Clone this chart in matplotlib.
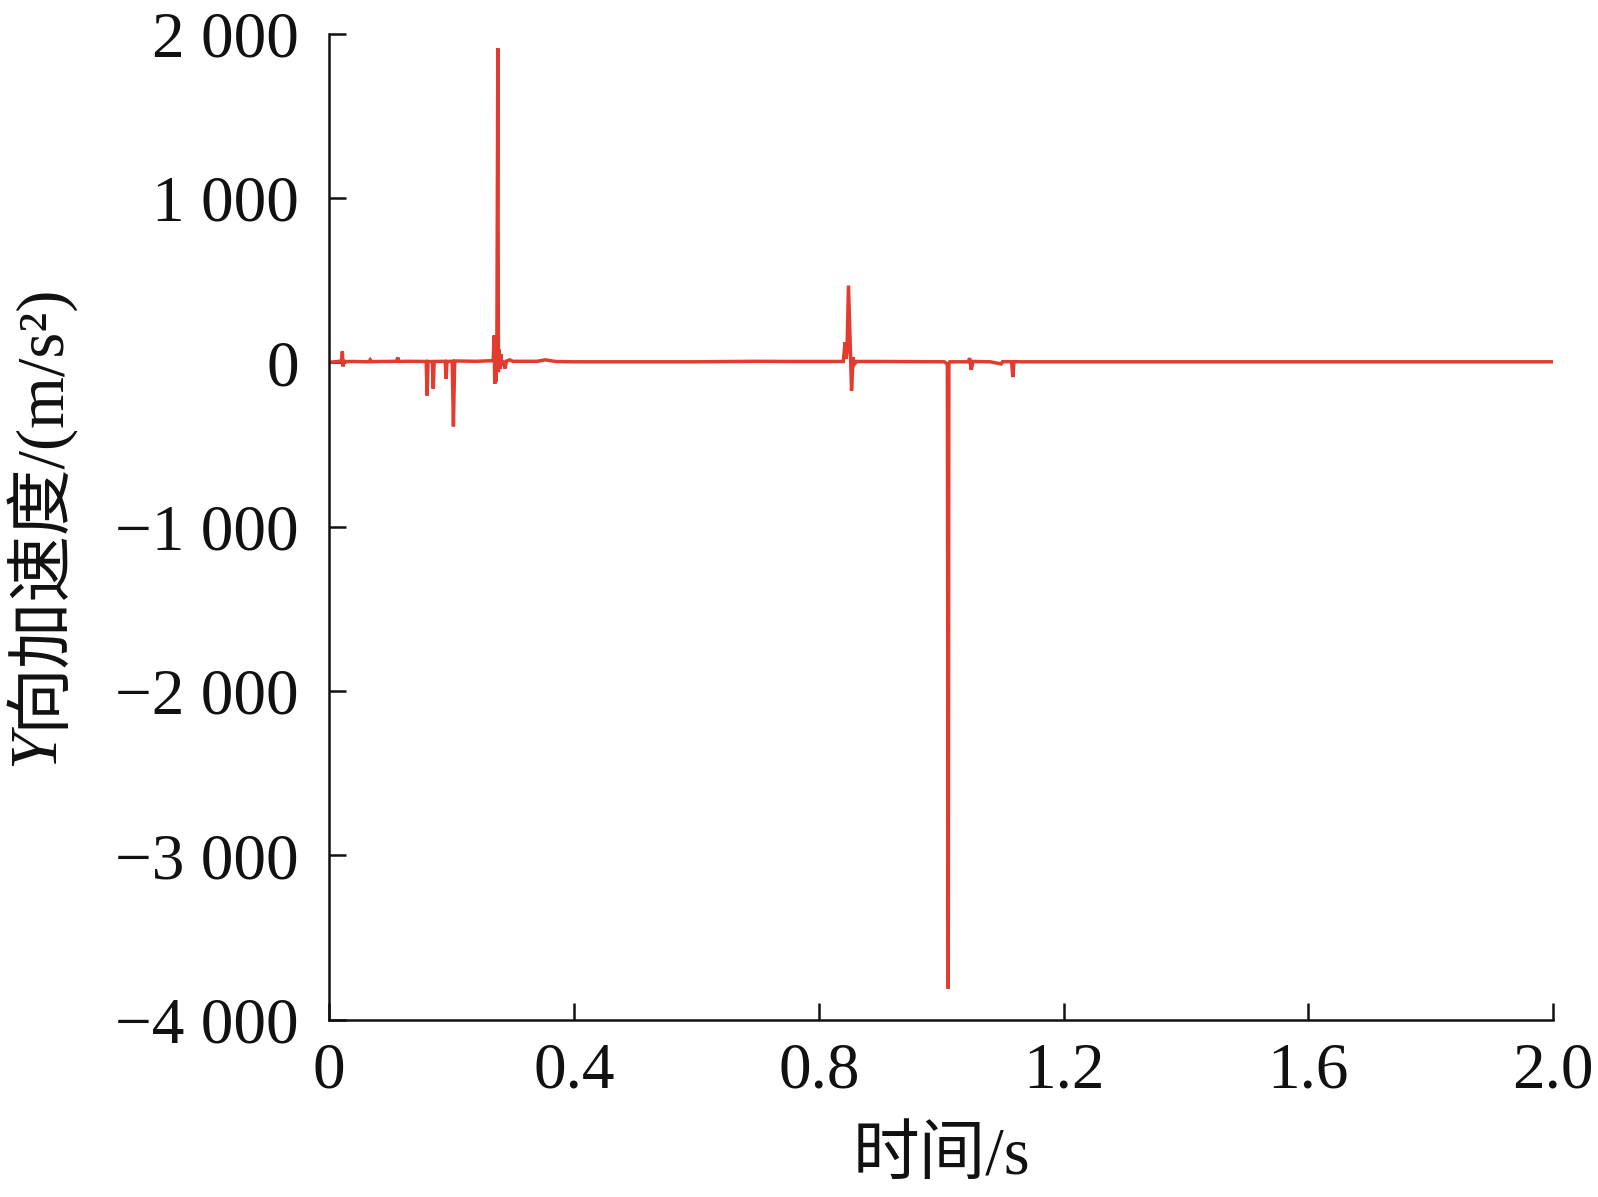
import matplotlib
matplotlib.use("Agg")
import matplotlib.pyplot as plt
from matplotlib.ticker import FixedLocator, FixedFormatter

# ---- data ----
time_s = [0.000, 0.015, 0.0205, 0.0215, 0.0225, 0.0235, 0.026, 0.040, 0.065, 0.067, 0.069,
          0.110, 0.1122, 0.1130, 0.1138, 0.130, 0.1585, 0.1600, 0.1615, 0.1685, 0.1700, 0.1715,
          0.1895, 0.1910, 0.1925, 0.2010, 0.2030, 0.2050, 0.240, 0.2680, 0.2695, 0.2705,
          0.2715, 0.2725, 0.2740, 0.2755, 0.2765, 0.2775, 0.2790, 0.2805, 0.2820, 0.2850,
          0.2870, 0.2900, 0.2950, 0.3000, 0.3400, 0.3530, 0.3700, 0.4000, 0.6000, 0.7000,
          0.7500, 0.8400, 0.8430, 0.8445, 0.8460, 0.8485, 0.8535, 0.8560, 0.8585, 0.8620,
          0.9000, 1.0050, 1.0100, 1.0115, 1.0125, 1.0140, 1.0200, 1.0440, 1.0465, 1.0490,
          1.0520, 1.0800, 1.0980, 1.1000, 1.1020, 1.1150, 1.1170, 1.1190, 1.1300, 1.4000,
          1.7000, 2.0000]
accel_y = [0, 5, 10, 66, -25, 8, 4, 5, 3, 15, 4,
           6, 30, 10, 5, 6, 5, -202, 5, 4, -161, 5,
           6, -100, 5, 6, -390, 8, 6, 10, 163, -131,
           150, -120, 100, 1910, -60, 80, -40, 50, -20, 10,
           -38, 8, 15, 6, 6, 15, 5, 3, 3, 6,
           5, 5, 122, 20, 60, 467, -172, 30, -10, 5,
           5, 3, -10, -3810, -10, 3, 3, 3, 25, -46,
           5, 3, -10, 3, 4, 3, -90, 4, 3, 3,
           3, 3]

x_ticks = [0, 0.4, 0.8, 1.2, 1.6, 2.0]
x_tick_labels = ["0", "0.4", "0.8", "1.2", "1.6", "2.0"]
y_ticks = [-4000, -3000, -2000, -1000, 0, 1000, 2000]
y_tick_labels = ["\u22124 000", "\u22123 000", "\u22122 000", "\u22121 000",
                 "0", "1 000", "2 000"]

# ---- style ----
serif = ["Liberation Serif", "DejaVu Serif"]
cjk = ["Liberation Serif", "Noto Sans CJK SC", "DejaVu Sans"]
plt.rcParams["font.family"] = serif
FS = 47
LFS = 48
RED = "#E43B2F"

fig = plt.figure(figsize=(15.98, 11.97), dpi=100)
ax = fig.add_axes([0.206, 0.148, 0.766, 0.824])

ax.plot(time_s, accel_y, color=RED, lw=2.5, solid_joinstyle="miter")

ax.set_xlim(0, 2.0)
ax.set_ylim(-4000, 2000)
ax.xaxis.set_major_locator(FixedLocator(x_ticks))
ax.xaxis.set_major_formatter(FixedFormatter(x_tick_labels))
ax.yaxis.set_major_locator(FixedLocator(y_ticks))
ax.yaxis.set_major_formatter(FixedFormatter(y_tick_labels))

for s in ["top", "right"]:
    ax.spines[s].set_visible(False)
for s in ["left", "bottom"]:
    ax.spines[s].set_linewidth(1.8)
    ax.spines[s].set_color("#111111")

ax.tick_params(axis="both", direction="in", length=12, width=1.8, color="#111111",
               labelsize=FS, labelcolor="#111111")
ax.tick_params(axis="x", pad=16)
ax.tick_params(axis="y", pad=22)

ax.set_xlabel("时间/s", family=cjk, fontsize=LFS, color="#111111", labelpad=18)

# y label: italic Y followed by the rest
x_lab = 0.023
ty = fig.text(x_lab, 0.36, "Y", rotation=90, fontsize=LFS, family=serif, style="italic",
              ha="center", va="bottom", color="#111111")
fig.canvas.draw()
r = fig.canvas.get_renderer()
bb = ty.get_window_extent(r).transformed(fig.transFigure.inverted())
fig.text(x_lab, bb.y1 + 0.001, "向加速度/(m/s²)", rotation=90, fontsize=LFS, family=cjk,
         ha="center", va="bottom", color="#111111")

fig.savefig("out.png", dpi=100)
